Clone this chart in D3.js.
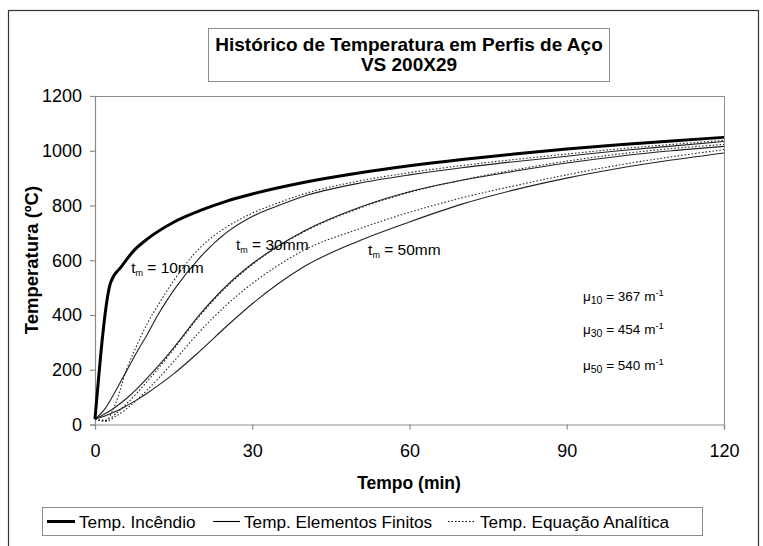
<!DOCTYPE html>
<html><head><meta charset="utf-8">
<script src="https://cdn.jsdelivr.net/npm/d3@7"></script>
<style>
body{margin:0;background:#fff;}
svg text{font-family:Arial,"Liberation Sans",sans-serif;fill:#000;}
</style></head>
<body><svg id="c" width="763" height="546"></svg>
<script>
// ---- data ----
const fireT  = [0, 3, 5, 7.5, 10, 15, 20, 25, 30, 40, 50, 60, 70, 80, 90, 100, 110, 120];
const fireV  = [20, 520, 576, 637, 678, 739, 781, 815, 842, 885, 918, 945, 968, 988, 1006, 1022, 1036, 1049];

const steelT = [0, 2, 4, 6, 8, 10, 12, 15, 20, 25, 30, 35, 40, 50, 60, 70, 80, 90, 100, 110, 120];
const fe10   = [20, 60, 125, 195, 265, 330, 400, 490, 610, 700, 760, 800, 835, 880, 912, 938, 960, 980, 1000, 1017, 1034];
const an10   = [20, 15, 80, 200, 290, 370, 435, 525, 645, 720, 772, 810, 843, 888, 920, 946, 968, 988, 1007, 1023, 1038];
const fe30   = [20, 40, 65, 95, 130, 170, 212, 280, 402, 505, 587, 653, 708, 790, 850, 892, 925, 955, 980, 1000, 1016];
const an30   = [20, 15, 40, 75, 115, 158, 203, 275, 397, 501, 584, 650, 705, 787, 848, 893, 930, 962, 988, 1008, 1023];
const fe50   = [20, 32, 48, 68, 90, 115, 142, 185, 268, 357, 441, 515, 578, 668, 740, 805, 857, 900, 936, 966, 992];
const an50   = [20, 11, 30, 57, 90, 127, 166, 230, 340, 435, 515, 582, 638, 712, 775, 828, 872, 912, 948, 978, 1004];

const xTicks = [0, 30, 60, 90, 120];
const yTicks = [0, 200, 400, 600, 800, 1000, 1200];
const titleLines = ["Histórico de Temperatura em Perfis de Aço", "VS 200X29"];
const xTitle = "Tempo (min)";
const yTitle = "Temperatura (ºC)";
const thickLabels = [{t:"10mm", x:6.9, y:554}, {t:"30mm", x:26.9, y:638}, {t:"50mm", x:52.1, y:620}];
const muLabels = [{s:"10", v:"367"}, {s:"30", v:"454"}, {s:"50", v:"540"}];
const legendLabels = ["Temp. Incêndio", "Temp. Elementos Finitos", "Temp. Equação Analítica"];

// ---- drawing ----
const svg = d3.select("#c");
const L = 95, R = 724, T = 96, B = 424.5;
const x = d3.scaleLinear().domain([0,120]).range([L,R]);
const y = d3.scaleLinear().domain([0,1200]).range([B,T]);
const gray = "#8c8c8c";
const FF = "Arial, 'Liberation Sans', sans-serif";

// outer frame
svg.append("rect").attr("x",8.5).attr("y",10.5).attr("width",750).attr("height",560)
  .attr("fill","none").attr("stroke","#333").attr("stroke-width",1.2);

// title box
svg.append("rect").attr("x",208.5).attr("y",28.5).attr("width",401).attr("height",53)
  .attr("fill","#fff").attr("stroke",gray).attr("stroke-width",1);
titleLines.forEach((t,i)=>{
  svg.append("text").attr("x",409).attr("y",51+i*20).attr("text-anchor","middle")
    .attr("font-size",19).attr("font-weight","bold").text(t);
});

// plot frame (top/right)
svg.append("path").attr("d",`M${L},${T}.5H${R}.5V${B}`).attr("fill","none").attr("stroke",gray).attr("stroke-width",1);

// axes
const xAxis = svg.append("g").attr("transform",`translate(0,${B})`)
  .call(d3.axisBottom(x).tickValues(xTicks).tickSize(5).tickPadding(15).tickFormat(d3.format("d")));
const yAxis = svg.append("g").attr("transform",`translate(${L},0)`)
  .call(d3.axisLeft(y).tickValues(yTicks).tickSize(5).tickPadding(8).tickFormat(d3.format("d")));
[xAxis,yAxis].forEach(g=>{
  g.selectAll("path,line").attr("stroke",gray).attr("stroke-width",1.2);
  g.selectAll("text").attr("font-size",18).attr("font-family",FF).attr("fill","#000");
});

svg.append("text").attr("x",409).attr("y",489).attr("text-anchor","middle")
  .attr("font-size",17.5).attr("font-weight","bold").text(xTitle);
svg.append("text").attr("transform","translate(38,260) rotate(-90)").attr("text-anchor","middle")
  .attr("font-size",18.5).attr("font-weight","bold").text(yTitle);

// lines
const line = d3.line().x(d=>x(d[0])).y(d=>y(d[1])).curve(d3.curveMonotoneX);
const zip = (ts,vs)=>ts.map((t,i)=>[t,vs[i]]);
const g = svg.append("g");
const series = [
  {v:fe50, dash:null}, {v:an50, dash:"1.5,2"},
  {v:fe30, dash:null}, {v:an30, dash:"1.5,2"},
  {v:fe10, dash:null}, {v:an10, dash:"1.5,2"}
];
series.forEach(s=>{
  g.append("path").attr("d",line(zip(steelT,s.v))).attr("fill","none")
    .attr("stroke","#222").attr("stroke-width",1.1)
    .attr("stroke-dasharray",s.dash);
});
g.append("path").attr("d",line(zip(fireT,fireV))).attr("fill","none")
  .attr("stroke","#000").attr("stroke-width",3);

// thickness labels
thickLabels.forEach(l=>{
  const t = svg.append("text").attr("x",x(l.x)).attr("y",y(l.y)).attr("font-size",15.5);
  t.append("tspan").text("t");
  t.append("tspan").attr("font-size",9).attr("dy",3).text("m");
  t.append("tspan").attr("dy",-3).text(" = "+l.t);
});
// mu labels
muLabels.forEach((m,i)=>{
  const t = svg.append("text").attr("x",583).attr("y",[301,334,370][i]).attr("font-size",13.5);
  t.append("tspan").text("μ");
  t.append("tspan").attr("font-size",10.5).attr("dy",3).text(m.s);
  t.append("tspan").attr("dy",-3).text(" = "+m.v+" m");
  t.append("tspan").attr("font-size",9.5).attr("dy",-5).text("-1");
});

// legend
svg.append("rect").attr("x",42.5).attr("y",507.5).attr("width",660).attr("height",28)
  .attr("fill","#fff").attr("stroke",gray).attr("stroke-width",1);
const ly = 521.5;
const items = [
  {x0:47, x1:75, tx:79, w:3, dash:null},
  {x0:213, x1:240, tx:244, w:1.1, dash:null},
  {x0:448, x1:476, tx:480, w:1.1, dash:"1.5,2"}
];
items.forEach((it,i)=>{
  svg.append("line").attr("x1",it.x0).attr("x2",it.x1).attr("y1",ly).attr("y2",ly)
    .attr("stroke","#000").attr("stroke-width",it.w).attr("stroke-dasharray",it.dash);
  svg.append("text").attr("x",it.tx).attr("y",ly+6.5).attr("font-size",17.2).text(legendLabels[i]);
});
</script></body></html>
